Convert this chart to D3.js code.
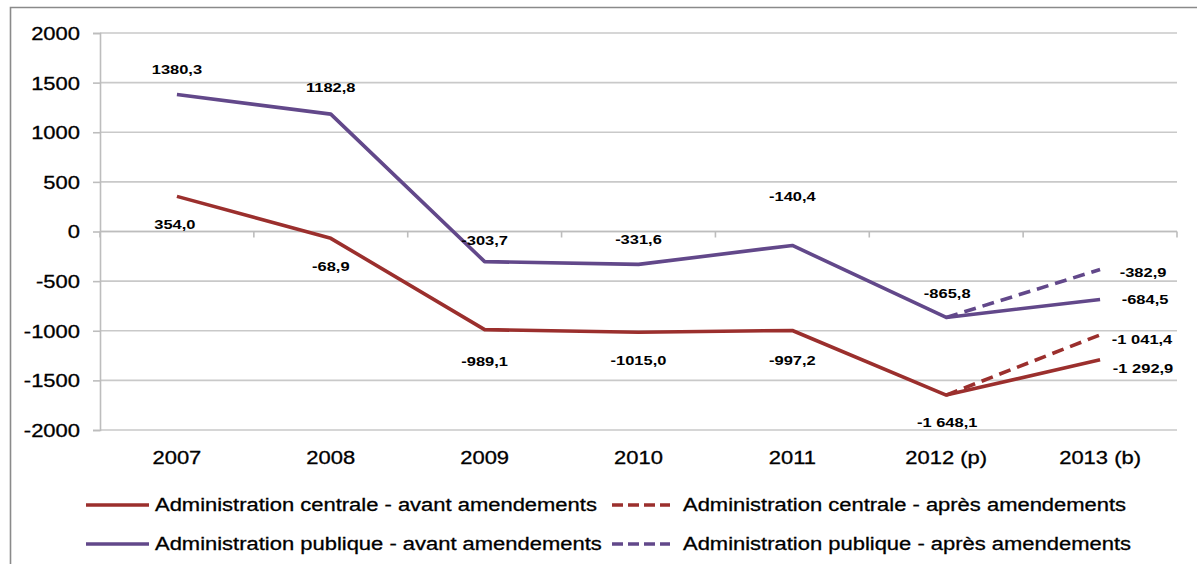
<!DOCTYPE html>
<html>
<head>
<meta charset="utf-8">
<script src="https://cdn.jsdelivr.net/npm/d3@7"></script>
<style>
  html, body { margin: 0; padding: 0; background: #fff; }
  svg { display: block; font-family: "Liberation Sans", Arial, sans-serif; }
</style>
</head>
<body>
<svg id="chart" width="1197" height="564"></svg>
<script>
// ---- Data ----
const categories = ["2007", "2008", "2009", "2010", "2011", "2012 (p)", "2013 (b)"];
const yTicks = [2000, 1500, 1000, 500, 0, -500, -1000, -1500, -2000];

const centraleAvant = [354.0, -68.9, -989.1, -1015.0, -997.2, -1648.1, -1292.9];
const centraleAvantLabels = ["354,0", "-68,9", "-989,1", "-1015,0", "-997,2", "-1 648,1", "-1 292,9"];

const publiqueAvant = [1380.3, 1182.8, -303.7, -331.6, -140.4, -865.8, -684.5];
const publiqueAvantLabels = ["1380,3", "1182,8", "-303,7", "-331,6", "-140,4", "-865,8", "-684,5"];

const apresCategories = ["2012 (p)", "2013 (b)"];
const centraleApres = [-1648.1, -1041.4];
const centraleApresLabels = [null, "-1 041,4"];
const publiqueApres = [-865.8, -382.9];
const publiqueApresLabels = [null, "-382,9"];

const legendNames = [
  "Administration centrale - avant amendements",
  "Administration centrale - après amendements",
  "Administration publique - avant amendements",
  "Administration publique - après amendements"
];

// ---- Layout / style (not data) ----
const RED = "#9b2f2d", PURPLE = "#62488a";
const STRETCH = 1.22;
// label offsets (dx, dy) relative to the point
const offCentraleAvant = [[-2, 28], [0, 28], [0, 31], [0, 28], [0, 30], [1, 27], [43, 8]];
const offPubliqueAvant = [[0, -25], [0, -27], [0, -22], [0, -25], [0, -49], [1, -24], [45, 0]];
const offCentraleApres = [null, [42, 4]];
const offPubliqueApres = [null, [43, 3]];

const svg = d3.select("#chart");
const plotLeft = 100, plotRight = 1177, plotTop = 33, plotBottom = 430;

const x = d3.scaleBand().domain(categories).range([plotLeft, plotRight]).padding(0);
const xc = c => x(c) + x.bandwidth() / 2;
const y = d3.scaleLinear().domain([-2000, 2000]).range([plotBottom, plotTop]);

// border
svg.append("path")
  .attr("d", `M10.5,564 L10.5,7.5 L1197,7.5`)
  .attr("fill", "none").attr("stroke", "#8a8a8a").attr("stroke-width", 1.6);

// gridlines
svg.append("g").selectAll("line").data(yTicks).join("line")
  .attr("x1", plotLeft).attr("x2", plotRight)
  .attr("y1", d => y(d)).attr("y2", d => y(d))
  .attr("stroke", "#c9c9c9").attr("stroke-width", 1.6);

// y axis
const yAxis = svg.append("g").attr("transform", `translate(${plotLeft},0)`)
  .call(d3.axisLeft(y).tickValues(yTicks).tickSize(7).tickPadding(13).tickFormat(d => String(d)));
yAxis.select(".domain").attr("stroke", "#bdbdbd").attr("stroke-width", 1.6);
yAxis.selectAll(".tick line").attr("stroke", "#bdbdbd").attr("stroke-width", 1.6);
yAxis.selectAll(".tick text").attr("font-size", 18).attr("fill", "#000")
  .attr("font-family", "Liberation Sans, Arial, sans-serif").attr("dy", "0.36em")
  .attr("stroke", "#000").attr("stroke-width", 0.3);

// x axis at zero
const boundaries = categories.map(c => x(c)).concat([plotRight]);
svg.append("line").attr("x1", plotLeft).attr("x2", plotRight).attr("y1", y(0)).attr("y2", y(0))
  .attr("stroke", "#bdbdbd").attr("stroke-width", 1.6);
svg.append("g").selectAll("line").data(boundaries).join("line")
  .attr("x1", d => d).attr("x2", d => d).attr("y1", y(0)).attr("y2", y(0) + 6)
  .attr("stroke", "#bdbdbd").attr("stroke-width", 1.6);
svg.append("g").selectAll("text").data(categories).join("text")
  .attr("x", d => xc(d)).attr("y", 464)
  .attr("text-anchor", "middle").attr("font-size", 18).attr("fill", "#000")
  .attr("stroke", "#000").attr("stroke-width", 0.3)
  .text(d => d);

// lines
const line = d3.line().x(d => xc(d.c)).y(d => y(d.v));
function series(cats, vals) { return cats.map((c, i) => ({ c, v: vals[i] })); }

function drawLine(cats, vals, color, dashed) {
  svg.append("path").datum(series(cats, vals))
    .attr("d", line).attr("fill", "none")
    .attr("stroke", color).attr("stroke-width", 3.6)
    .attr("stroke-linejoin", "round")
    .attr("stroke-dasharray", dashed ? "12,7" : null);
}
drawLine(categories, centraleAvant, RED, false);
drawLine(categories, publiqueAvant, PURPLE, false);
drawLine(apresCategories, centraleApres, RED, true);
drawLine(apresCategories, publiqueApres, PURPLE, true);

// data labels
function drawLabels(cats, vals, labels, offs) {
  cats.forEach((c, i) => {
    if (!labels[i]) return;
    svg.append("text")
      .attr("x", xc(c) + offs[i][0]).attr("y", y(vals[i]) + offs[i][1])
      .attr("dy", "0.36em")
      .attr("text-anchor", "middle").attr("font-size", 13.5).attr("font-weight", "bold")
      .attr("fill", "#000").text(labels[i]);
  });
}
drawLabels(categories, centraleAvant, centraleAvantLabels, offCentraleAvant);
drawLabels(categories, publiqueAvant, publiqueAvantLabels, offPubliqueAvant);
drawLabels(apresCategories, centraleApres, centraleApresLabels, offCentraleApres);
drawLabels(apresCategories, publiqueApres, publiqueApresLabels, offPubliqueApres);

// legend
const legendItems = [
  { name: legendNames[0], color: RED, dashed: false, lx: 86, ly: 505 },
  { name: legendNames[1], color: RED, dashed: true, lx: 612, ly: 505 },
  { name: legendNames[2], color: PURPLE, dashed: false, lx: 86, ly: 544 },
  { name: legendNames[3], color: PURPLE, dashed: true, lx: 612, ly: 544 }
];
legendItems.forEach(it => {
  svg.append("line")
    .attr("x1", it.lx).attr("x2", it.lx + (it.dashed ? 58 : 63))
    .attr("y1", it.ly).attr("y2", it.ly)
    .attr("stroke", it.color).attr("stroke-width", 3.6)
    .attr("stroke-dasharray", it.dashed ? "11,5" : null);
  svg.append("text")
    .attr("x", it.lx + (it.dashed ? 71 : 69)).attr("y", it.ly)
    .attr("dy", "0.36em").attr("font-size", 18).attr("fill", "#000")
    .attr("stroke", "#000").attr("stroke-width", 0.3)
    .text(it.name);
});

// horizontal stretch of all texts (reference is widened)
svg.selectAll("text").each(function () {
  const len = this.getComputedTextLength();
  d3.select(this).attr("textLength", len * STRETCH).attr("lengthAdjust", "spacingAndGlyphs");
});
</script>
</body>
</html>
